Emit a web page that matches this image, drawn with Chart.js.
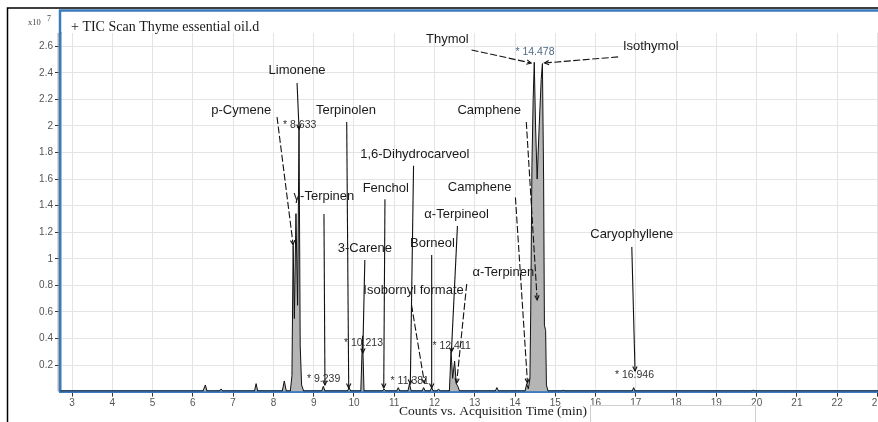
<!DOCTYPE html>
<html>
<head>
<meta charset="utf-8">
<script src="https://cdn.jsdelivr.net/npm/chart.js@4.4.1/dist/chart.umd.min.js"></script>
<style>
  html, body { margin:0; padding:0; background:#fff; overflow:hidden; }
  #wrap { position:relative; width:884px; height:422px; }
</style>
</head>
<body>
<div id="wrap"><canvas id="c"></canvas></div>
<script>
// ---- Data (retention time in min, counts in units of 10^7) ----
const times = [
  2.70, 6.25, 6.31, 6.35, 6.66, 6.70, 6.74, 7.53, 7.57, 7.61,
  8.22, 8.27, 8.32, 8.42, 8.46, 8.49, 8.52, 8.56, 8.60, 8.636,
  8.665, 8.70, 8.75, 9.20, 9.239, 9.28, 9.84, 9.88, 9.92, 10.17,
  10.213, 10.25, 10.71, 10.75, 10.79, 11.06, 11.10, 11.14, 11.34, 11.38,
  11.42, 11.69, 11.73, 11.77, 11.89, 11.93, 11.97, 12.06, 12.10, 12.14,
  12.37, 12.411, 12.45, 12.50, 12.54, 12.58, 12.62, 13.51, 13.55, 13.59,
  14.25, 14.29, 14.33, 14.37, 14.39, 14.42, 14.45, 14.478, 14.51, 14.55,
  14.60, 14.65, 14.68, 14.71, 14.73, 14.76, 14.78, 14.82, 15.16, 15.20,
  15.24, 16.91, 16.946, 16.98, 19.88, 19.92, 19.96, 23.05
];
const counts = [
  0.004, 0.004, 0.05, 0.004, 0.004, 0.02, 0.004, 0.004, 0.06, 0.004,
  0.004, 0.08, 0.004, 0.004, 0.12, 1.10, 0.55, 1.34, 0.65, 2.00,
  0.35, 0.05, 0.004, 0.004, 0.04, 0.004, 0.004, 0.03, 0.004, 0.004,
  0.42, 0.004, 0.004, 0.02, 0.004, 0.004, 0.03, 0.004, 0.004, 0.06,
  0.004, 0.004, 0.03, 0.004, 0.004, 0.03, 0.004, 0.004, 0.02, 0.004,
  0.004, 0.30, 0.10, 0.23, 0.06, 0.04, 0.004, 0.004, 0.03, 0.004,
  0.004, 0.06, 0.02, 0.10, 0.60, 1.70, 2.20, 2.48, 2.00, 1.60,
  2.00, 2.35, 2.47, 1.60, 0.50, 0.46, 0.05, 0.004, 0.004, 0.01,
  0.004, 0.004, 0.03, 0.004, 0.004, 0.01, 0.004, 0.004
];

// compound labels with arrows (data coordinates: [time, counts])
const compoundNames = ['Thymol','Isothymol','Limonene','p-Cymene','Terpinolen','1,6-Dihydrocarveol',
  'Fenchol','γ-Terpinen','3-Carene','Borneol','α-Terpineol','Isobornyl formate','α-Terpinen',
  'Camphene','Camphene','Caryophyllene'];
const compoundLabelAt = [[12.32,2.648],[17.37,2.602],[8.587,2.422],[7.20,2.12],[9.80,2.12],[11.51,1.789],
  [10.79,1.533],[9.255,1.467],[10.27,1.081],[11.95,1.119],[12.55,1.337],[11.48,0.765],[13.71,0.901],
  [13.36,2.12],[13.12,1.541],[16.90,1.186]];
const arrowFrom = [[12.92,2.572],[16.56,2.52],[8.587,2.324],[8.09,2.067],[9.82,2.03],[11.48,1.70],
  [10.77,1.449],[9.255,1.337],[10.27,0.991],[11.93,1.029],[12.57,1.247],[11.43,0.652],[12.80,0.81],
  [14.28,2.03],[14.01,1.461],[16.90,1.089]];
const arrowTo = [[14.40,2.474],[14.73,2.474],[8.636,1.977],[8.49,1.105],[9.87,0.027],[11.40,0.057],
  [10.74,0.027],[9.28,0.05],[10.22,0.291],[11.93,0.027],[12.42,0.298],[11.75,0.065],[12.55,0.065],
  [14.55,0.69],[14.31,0.065],[16.98,0.155]];
const arrowDashed = [true,true,false,true,false,false,false,false,false,false,false,true,true,true,true,false];

// retention time tags
const rtTags = ['* 14.478','* 8.633','* 9.239','* 10.213','* 11.381','* 12.411','* 16.946'];
const rtTagAt = [[14.01,2.557],[8.24,2.008],[8.834,0.095],[9.75,0.366],[10.91,0.080],[11.95,0.343],[16.48,0.124]];

const xTickValues = [3,4,5,6,7,8,9,10,11,12,13,14,15,16,17,18,19,20,21,22,23];
const yTickValues = [0.2,0.4,0.6,0.8,1,1.2,1.4,1.6,1.8,2,2.2,2.4,2.6];

const BLUE = '#3b7bbd';

const annotPlugin = {
  id: 'annot',
  afterDatasetsDraw(chart) {
    const ctx = chart.ctx, xs = chart.scales.x, ys = chart.scales.y;
    const px = p => [xs.getPixelForValue(p[0]), ys.getPixelForValue(p[1])];
    ctx.save();
    // arrows
    for (let i = 0; i < compoundNames.length; i++) {
      const a = px(arrowFrom[i]), b = px(arrowTo[i]);
      ctx.strokeStyle = '#111';
      ctx.lineWidth = 1.1;
      ctx.setLineDash(arrowDashed[i] ? [7, 2.5] : []);
      ctx.beginPath(); ctx.moveTo(a[0], a[1]); ctx.lineTo(b[0], b[1]); ctx.stroke();
      ctx.setLineDash([]);
      const ang = Math.atan2(b[1] - a[1], b[0] - a[0]);
      const L = 5, spread = 0.45;
      ctx.beginPath();
      ctx.moveTo(b[0] - L * Math.cos(ang - spread), b[1] - L * Math.sin(ang - spread));
      ctx.lineTo(b[0], b[1]);
      ctx.lineTo(b[0] - L * Math.cos(ang + spread), b[1] - L * Math.sin(ang + spread));
      ctx.stroke();
    }
    // compound labels
    ctx.font = '13px "Liberation Sans", Arial, sans-serif';
    ctx.fillStyle = '#1a1a1a';
    ctx.textAlign = 'center';
    ctx.textBaseline = 'middle';
    for (let i = 0; i < compoundNames.length; i++) {
      const p = px(compoundLabelAt[i]);
      ctx.fillText(compoundNames[i], p[0], p[1]);
    }
    // rt tags
    ctx.font = '10.5px "Liberation Sans", Arial, sans-serif';
    ctx.textAlign = 'left';
    for (let i = 0; i < rtTags.length; i++) {
      const p = px(rtTagAt[i]);
      ctx.fillStyle = i === 0 ? '#4d6b85' : '#333';
      ctx.fillText(rtTags[i], p[0], p[1]);
    }
    ctx.restore();
  },
  afterDraw(chart) {
    const ctx = chart.ctx, ca = chart.chartArea;
    ctx.save();
    // outer black frame
    ctx.strokeStyle = '#000'; ctx.lineWidth = 1.5;
    ctx.beginPath(); ctx.moveTo(7.5, 422); ctx.lineTo(7.5, 8); ctx.lineTo(884, 8); ctx.stroke();
    // blue frame top + extension of left axis
    ctx.strokeStyle = BLUE; ctx.lineWidth = 2.5;
    ctx.beginPath(); ctx.moveTo(ca.left, ca.top + 1); ctx.lineTo(ca.left, 10.5); ctx.lineTo(884, 10.5); ctx.stroke();
    // grey inner line next to y axis
    ctx.strokeStyle = '#888'; ctx.lineWidth = 1;
    ctx.beginPath(); ctx.moveTo(ca.left - 1.8, ca.top); ctx.lineTo(ca.left - 1.8, ca.bottom); ctx.stroke();
    // titles
    ctx.fillStyle = '#1a1a1a';
    ctx.font = '14px "Liberation Serif", "Times New Roman", serif';
    ctx.textBaseline = 'alphabetic';
    ctx.textAlign = 'left';
    ctx.fillText('+ TIC Scan Thyme essential oil.d', 71, 31);
    ctx.textAlign = 'center';
    ctx.font = '13.5px "Liberation Serif", "Times New Roman", serif';
    ctx.fillText('Counts vs. Acquisition Time (min)', 493, 415);
    // x10^7
    ctx.fillStyle = '#444';
    ctx.textAlign = 'left';
    ctx.font = '8.5px "Liberation Serif", serif';
    ctx.fillText('x10', 28, 25);
    ctx.font = '8px "Liberation Serif", serif';
    ctx.fillText('7', 47, 21);
    // faint box at bottom
    ctx.strokeStyle = '#d0d0d0'; ctx.lineWidth = 1;
    ctx.beginPath(); ctx.moveTo(590.5, 422); ctx.lineTo(590.5, 405.5); ctx.lineTo(755.5, 405.5); ctx.lineTo(755.5, 422); ctx.stroke();
    ctx.restore();
  }
};

new Chart(document.getElementById('c'), {
  type: 'line',
  data: {
    datasets: [{
      data: times.map((t, i) => ({ x: t, y: counts[i] })),
      borderColor: '#111',
      borderWidth: 1,
      backgroundColor: '#b5b5b5',
      fill: 'origin',
      pointRadius: 0,
      tension: 0
    }]
  },
  options: {
    responsive: true,
    maintainAspectRatio: false,
    animation: false,
    events: [],
    layout: { padding: { top: 33, right: 2, left: 0, bottom: 0 } },
    plugins: { legend: { display: false }, tooltip: { enabled: false }, title: { display: false } },
    scales: {
      x: {
        type: 'linear',
        min: 2.7, max: 23.05,
        afterFit(s) { s.height = 30.4; },
        afterBuildTicks(s) { s.ticks = xTickValues.map(v => ({ value: v })); },
        ticks: { autoSkip: false, maxRotation: 0, padding: 1, color: '#555',
          font: { size: 10, family: '"Liberation Sans", Arial, sans-serif' },
          callback: v => String(v) },
        grid: { color: '#e4e4e4', tickColor: '#333', tickLength: 5, lineWidth: 1 },
        border: { display: true, color: BLUE, width: 3 }
      },
      y: {
        type: 'linear',
        min: 0, max: 2.7,
        afterFit(s) { s.width = 60; },
        afterBuildTicks(s) { s.ticks = [{ value: 0 }].concat(yTickValues.map(v => ({ value: v }))); },
        ticks: { padding: 2, color: '#555',
          font: { size: 10, family: '"Liberation Sans", Arial, sans-serif' },
          callback: v => v === 0 ? '' : String(Math.round(v * 10) / 10) },
        grid: { color: '#e4e4e4', lineWidth: 1, tickLength: 5,
          tickColor: c => (c.tick && c.tick.value === 0) ? 'rgba(0,0,0,0)' : '#333' },
        border: { display: true, color: BLUE, width: 2.5 }
      }
    }
  },
  plugins: [annotPlugin]
});
</script>
</body>
</html>
